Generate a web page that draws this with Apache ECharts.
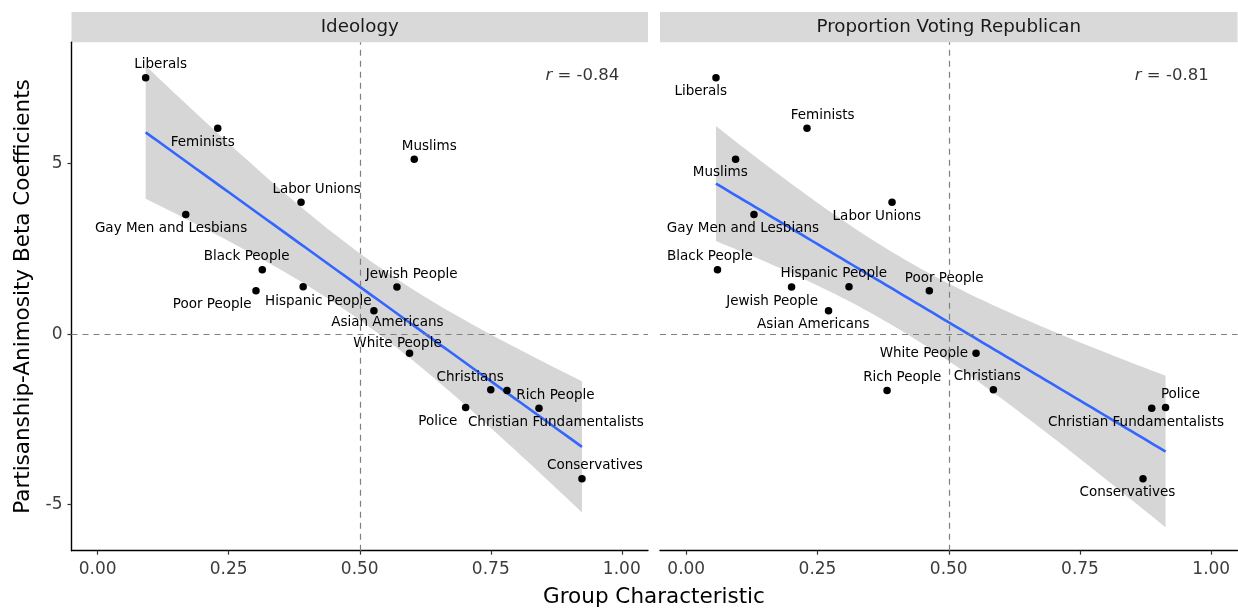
<!DOCTYPE html>
<html>
<head>
<meta charset="utf-8">
<script src="https://cdn.jsdelivr.net/npm/echarts@6/dist/echarts.min.js"></script>
<style>
html,body{margin:0;padding:0;background:#fff;}
#chart{width:1238px;height:609px;}
</style>
</head>
<body>
<div id="chart"></div>
<script>
// ---- data ----
const groups = ['Liberals','Feminists','Muslims','Labor Unions','Gay Men and Lesbians','Black People','Jewish People','Hispanic People','Poor People','Asian Americans','White People','Christians','Rich People','Police','Christian Fundamentalists','Conservatives'];
const betas = [7.52, 6.04, 5.13, 3.87, 3.51, 1.89, 1.38, 1.39, 1.27, 0.69, -0.56, -1.63, -1.65, -2.15, -2.17, -4.24];
const ideology = [0.0915, 0.229, 0.604, 0.388, 0.168, 0.314, 0.571, 0.392, 0.302, 0.527, 0.595, 0.750, 0.781, 0.702, 0.842, 0.924];
const propRepublican = [0.0566, 0.230, 0.094, 0.392, 0.129, 0.0595, 0.2006, 0.310, 0.463, 0.271, 0.552, 0.585, 0.3825, 0.913, 0.8866, 0.870];
const panelTitles = ['Ideology', 'Proportion Voting Republican'];
const rValues = ['-0.84', '-0.81'];
const xTicks = [0, 0.25, 0.5, 0.75, 1];
const yTicks = [-5, 0, 5];
const xTitle = 'Group Characteristic';
const yTitle = 'Partisanship-Animosity Beta Coefficients';

// ---- label placement (style, px offsets from point to label centre) ----
const labelOffsets = [
  {'Liberals':[15,-13],'Feminists':[-15,14],'Muslims':[15,-13],'Labor Unions':[15.6,-13],'Gay Men and Lesbians':[-14.7,14.3],
   'Black People':[-15.6,-13],'Jewish People':[14.7,-13],'Hispanic People':[15.2,14.7],'Poor People':[-43.8,14],
   'Asian Americans':[13.5,12],'White People':[-12,-10],'Christians':[-20.6,-12.7],'Rich People':[48.4,5.3],
   'Police':[-27.8,14],'Christian Fundamentalists':[16.9,14],'Conservatives':[13,-13]},
  {'Liberals':[-15.2,14],'Feminists':[15.6,-12.6],'Muslims':[-15.3,13.7],'Labor Unions':[-15.2,14],'Gay Men and Lesbians':[-11.1,14],
   'Black People':[-7.6,-13],'Jewish People':[-19.4,14.3],'Hispanic People':[-15.2,-13],'Poor People':[14.9,-12.7],
   'Asian Americans':[-15.2,14.3],'White People':[-52.2,0],'Christians':[-6.1,-13],'Rich People':[15.2,-13],
   'Police':[14.9,-12.7],'Christian Fundamentalists':[-15.7,14],'Conservatives':[-15.6,13.7]}
];

const FONT = '"DejaVu Sans", sans-serif';
const T_975_DF14 = 2.1448;

function linFit(xs, ys){
  const n = xs.length;
  const xbar = xs.reduce((a,b)=>a+b,0)/n;
  const ybar = ys.reduce((a,b)=>a+b,0)/n;
  let sxx=0, sxy=0;
  for(let i=0;i<n;i++){ sxx += (xs[i]-xbar)**2; sxy += (xs[i]-xbar)*(ys[i]-ybar); }
  const b = sxy/sxx, a = ybar - b*xbar;
  let sse=0;
  for(let i=0;i<n;i++){ sse += (ys[i]-(a+b*xs[i]))**2; }
  const s = Math.sqrt(sse/(n-2));
  const xmin = Math.min(...xs), xmax = Math.max(...xs);
  const line=[], upper=[], lower=[];
  const K = 80;
  for(let k=0;k<K;k++){
    const x = xmin + (xmax-xmin)*k/(K-1);
    const yh = a + b*x;
    const se = s*Math.sqrt(1/n + (x-xbar)**2/sxx);
    line.push([x,yh]); upper.push([x, yh + T_975_DF14*se]); lower.push([x, yh - T_975_DF14*se]);
  }
  return {line, upper, lower};
}

const xsets = [ideology, propRepublican];
const chart = echarts.init(document.getElementById('chart'), null, {renderer:'canvas'});

const grids = [
  {left:71.5, top:42.3, width:576.5, height:508.4},
  {left:660, top:42.3, width:577.5, height:508.4}
];

const xAxes = grids.map((g,i)=>({
  type:'value', gridIndex:i, min:-0.05, max:1.05,
  axisLine:{show:true, onZero:false, lineStyle:{color:'#000', width:1.4}},
  axisTick:{show:true, length:4, customValues:xTicks, lineStyle:{color:'#333', width:1.2}},
  axisLabel:{show:true, customValues:xTicks, margin:10, color:'#3d3d3d', fontFamily:FONT, fontSize:17,
    formatter:v=>Number(v).toFixed(2)},
  splitLine:{show:false}
}));
const yAxes = grids.map((g,i)=>({
  type:'value', gridIndex:i, min:-6.35, max:8.56,
  axisLine:{show:i===0, onZero:false, lineStyle:{color:'#000', width:1.4}},
  axisTick:{show:i===0, length:4, customValues:yTicks, lineStyle:{color:'#333', width:1.2}},
  axisLabel:{show:i===0, customValues:yTicks, margin:9, color:'#3d3d3d', fontFamily:FONT, fontSize:17},
  splitLine:{show:false}
}));

const series = [];
xsets.forEach((xs, p)=>{
  const fit = linFit(xs, betas);
  // reference dashed lines
  series.push({
    type:'line', xAxisIndex:p, yAxisIndex:p, data:[], z:1, silent:true,
    markLine:{silent:true, symbol:'none', animation:false, label:{show:false},
      lineStyle:{color:'#7f7f7f', width:1.2, type:[6,5]},
      data:[{xAxis:0.5},{yAxis:0}]}
  });
  // confidence band
  series.push({
    type:'custom', xAxisIndex:p, yAxisIndex:p, z:2, silent:true,
    data:[[fit.line[0][0], fit.line[0][1]]],
    renderItem:(params, api)=>{
      const pts = fit.upper.map(d=>api.coord(d)).concat(fit.lower.slice().reverse().map(d=>api.coord(d)));
      return {type:'polygon', shape:{points:pts}, style:{fill:'rgba(153,153,153,0.4)', stroke:null}};
    }
  });
  // regression line
  series.push({
    type:'line', xAxisIndex:p, yAxisIndex:p, z:3, silent:true, showSymbol:false,
    data:fit.line, lineStyle:{color:'#3366FF', width:2.6}, itemStyle:{color:'#3366FF'}
  });
  // points with labels
  series.push({
    type:'scatter', xAxisIndex:p, yAxisIndex:p, z:4, symbol:'circle', symbolSize:7.5,
    itemStyle:{color:'#000', opacity:1},
    data: groups.map((g,i)=>({name:g, value:[xs[i], betas[i]],
      label:{offset:labelOffsets[p][g]}})),
    label:{show:true, position:'inside', formatter:'{b}', color:'#000', fontFamily:FONT, fontSize:13.5,
      align:'center', verticalAlign:'middle', textBorderWidth:0, opacity:1}
  });
  // r annotation
  series.push({
    type:'scatter', xAxisIndex:p, yAxisIndex:p, z:5, symbolSize:0, silent:true,
    data:[{value:[0.995, 7.57]}],
    label:{show:true, position:'inside', align:'right', verticalAlign:'middle',
      formatter:'{i|r} = ' + rValues[p],
      color:'#000', fontFamily:FONT, fontSize:16.5,
      rich:{i:{fontStyle:'italic', fontFamily:FONT, fontSize:16.5, color:'#000'}}}
  });
});

const graphic = [];
grids.forEach((g,i)=>{
  graphic.push({type:'rect', shape:{x:g.left, y:12, width:g.width, height:30.3}, style:{fill:'#d9d9d9'}, silent:true});
  graphic.push({type:'text', x:g.left+g.width/2, y:27.5, silent:true,
    style:{text:panelTitles[i], fill:'#1a1a1a', font:'18.3px ' + FONT, textAlign:'center', textVerticalAlign:'middle'}});
});
graphic.push({type:'text', x:654, y:597, silent:true,
  style:{text:xTitle, fill:'#000', font:'21.5px ' + FONT, textAlign:'center', textVerticalAlign:'middle'}});
graphic.push({type:'text', x:23, y:296.5, rotation:Math.PI/2, silent:true,
  style:{text:yTitle, fill:'#000', font:'21.5px ' + FONT, textAlign:'center', textVerticalAlign:'middle'}});

chart.setOption({
  animation:false,
  backgroundColor:'#fff',
  grid:grids,
  xAxis:xAxes,
  yAxis:yAxes,
  series:series,
  graphic:graphic
});
</script>
</body>
</html>
